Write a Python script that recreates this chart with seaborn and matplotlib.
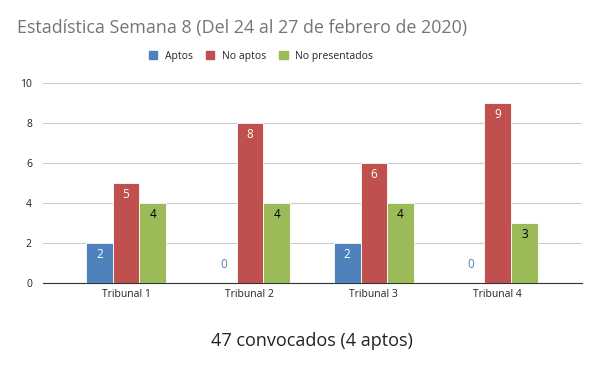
import matplotlib.pyplot as plt
import pandas as pd
import seaborn as sns

tribunales = ["Tribunal 1", "Tribunal 2", "Tribunal 3", "Tribunal 4"]
aptos = [2, 0, 2, 0]
no_aptos = [5, 8, 6, 9]
no_presentados = [4, 4, 4, 3]
series = ["Aptos", "No aptos", "No presentados"]
colors = ["#4f81bd", "#c0504d", "#9bbb59"]
label_colors = ["white", "white", "black"]

sns.set_style("white")
plt.rcParams["font.family"] = ["Open Sans", "DejaVu Sans"]

df = pd.DataFrame({
    "tribunal": tribunales * 3,
    "serie": [s for s in series for _ in tribunales],
    "valor": aptos + no_aptos + no_presentados,
})

fig = plt.figure(figsize=(6, 3.71), dpi=100)
ax = fig.add_axes([43 / 600, 1 - 283 / 371, 539 / 600, 200 / 371])

sns.barplot(
    data=df, x="tribunal", y="valor", hue="serie", hue_order=series,
    palette=colors, saturation=1, width=0.645, edgecolor="white", linewidth=0.6,
    ax=ax, legend=False, zorder=3,
)

# data labels
for cont, lc, base in zip(ax.containers, label_colors, colors):
    for bar in cont:
        v = bar.get_height()
        cx = bar.get_x() + bar.get_width() / 2
        if v == 0:
            ax.text(cx, 0.95, "0", ha="center", va="center", fontsize=8.5, color=base)
        else:
            ax.text(cx, v - 0.6, f"{int(v)}", ha="center", va="center", fontsize=8.5, color=lc)

ax.set_ylim(0, 10)
ax.set_xlim(-0.67, 3.68)
ax.set_yticks(range(0, 11, 2))
ax.grid(axis="y", color="#cccccc", linewidth=0.8, zorder=0)
for s in ["top", "right", "left"]:
    ax.spines[s].set_visible(False)
ax.spines["bottom"].set_color("#333333")
ax.tick_params(axis="both", length=0, labelsize=7.5, colors="#222222")
ax.tick_params(axis="y", pad=8)
ax.tick_params(axis="x", pad=4)
ax.set_xlabel("")
ax.set_ylabel("")

handles = [plt.Rectangle((0, 0), 1, 1, color=c) for c in colors]
fig.legend(handles, series, loc="center", bbox_to_anchor=(261 / 600, 1 - 56 / 371), ncol=3,
           frameon=False, fontsize=7.5, handlelength=0.8, handleheight=0.8,
           columnspacing=1.3, handletextpad=0.7)

fig.text(17 / 600, 1 - 28 / 371, "Estadística Semana 8 (Del 24 al 27 de febrero de 2020)",
         fontsize=12.9, color="#757575", ha="left", va="center")
fig.text(312 / 600, 1 - 341 / 371, "47 convocados (4 aptos)", fontsize=13,
         color="#222222", ha="center", va="center")

fig.savefig("out.png", dpi=100)
